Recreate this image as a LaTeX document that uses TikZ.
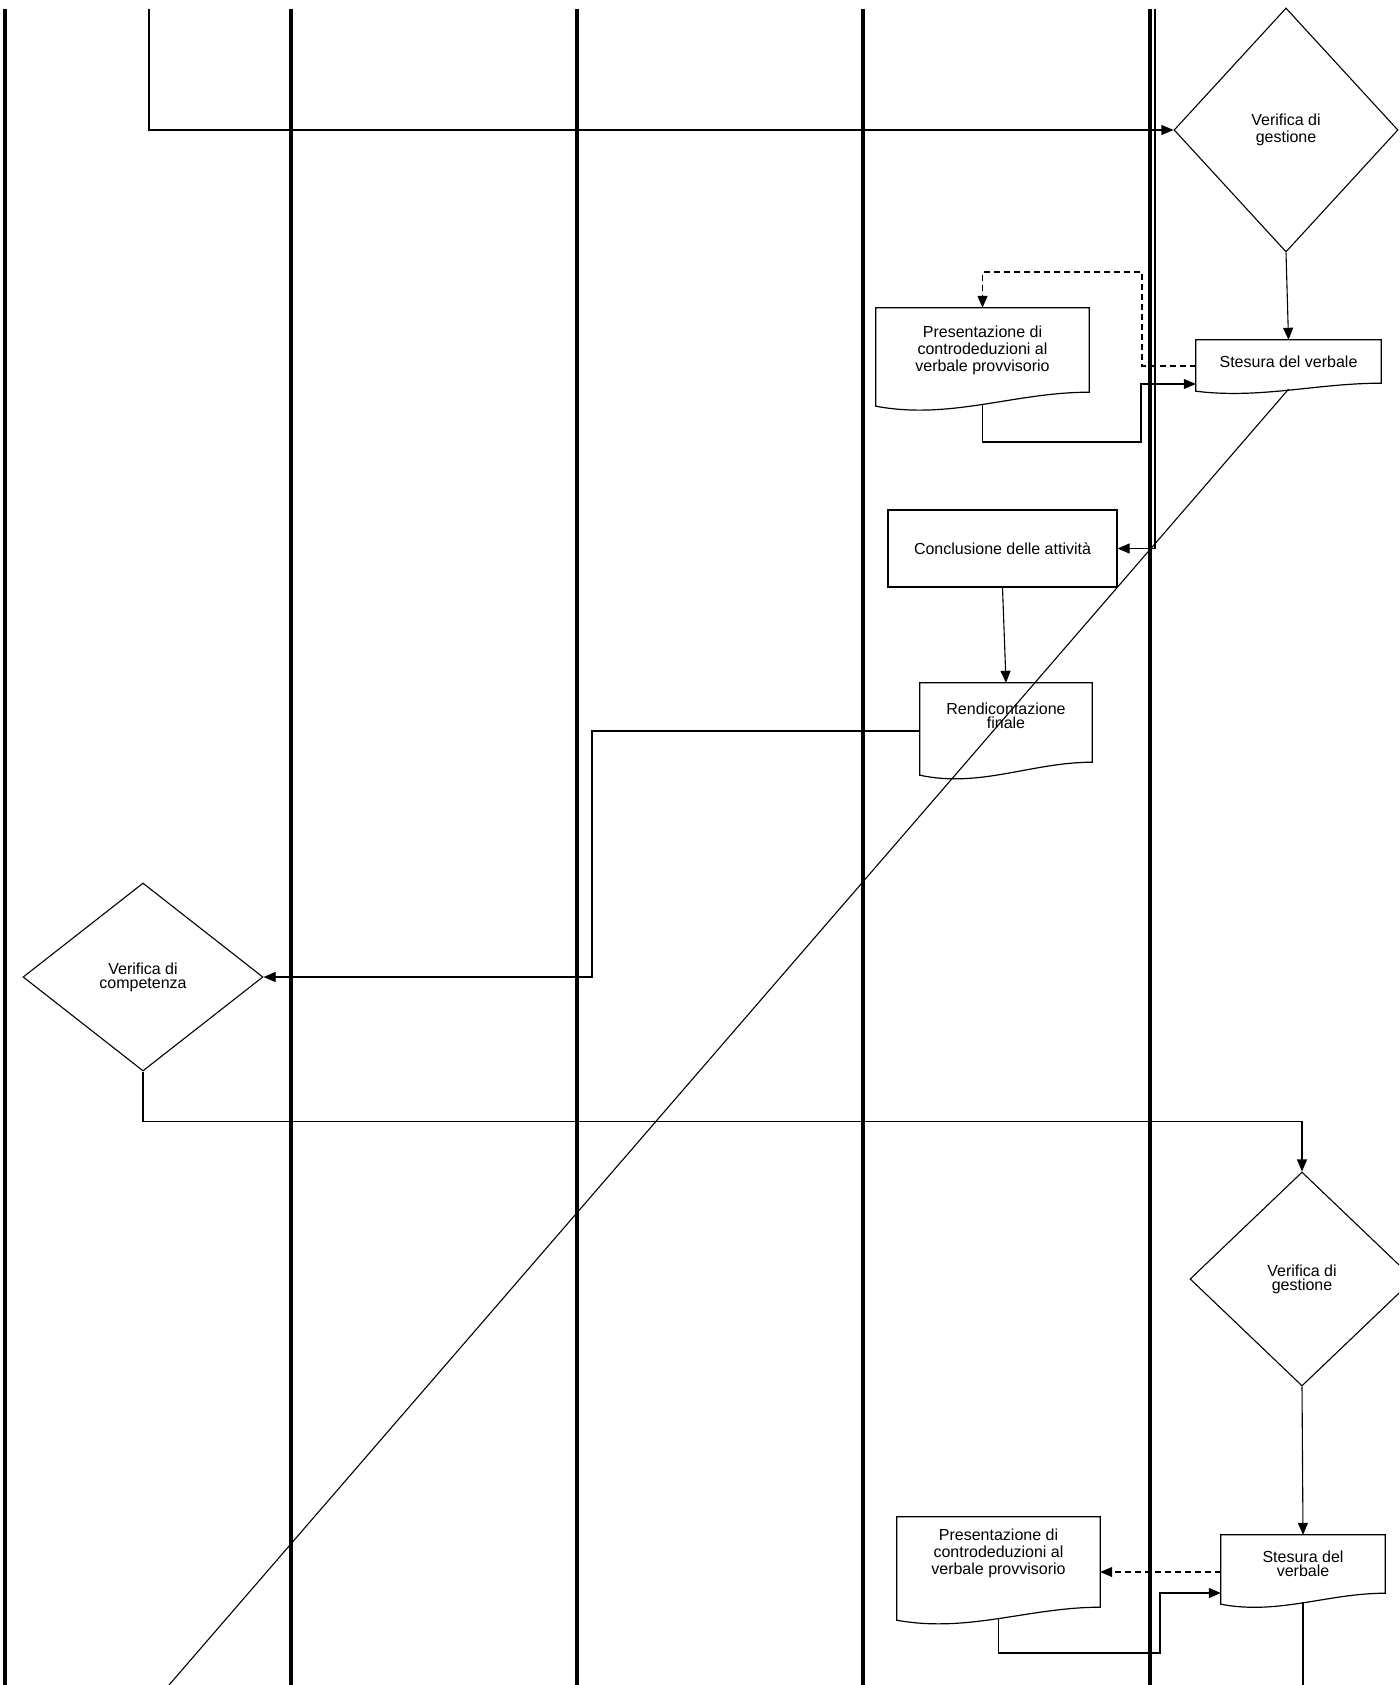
\documentclass[tikz,border=0pt]{standalone}
\usepackage{fontspec}
\setmainfont{Liberation Sans}
\usetikzlibrary{calc}
\usetikzlibrary{arrows.meta}
\usetikzlibrary{shapes.geometric}
\tikzset{
	lanestyle/.style={line width=3.5pt},
	flowstyle/.style={line width=1.1pt,-{Triangle[length=12pt,width=10pt]}},
	dashflowstyle/.style={flowstyle,dash pattern=on 6pt off 4pt},
	plainstyle/.style={line width=1.1pt},
	docline/.style={line width=1.2pt},
	boxstyle/.style={rectangle,draw=black,line width=1.1pt,align=center,inner sep=0pt},
	docstyle/.style={rectangle,draw=none,align=center,inner sep=0pt},
	doctext/.style={align=center,inner sep=0pt},
	decisionstyle/.style={diamond,draw=black,line width=1.1pt,align=center,inner sep=0pt}
}
% document shape with wavy bottom: #1 node, #2 drop of the left corner
\newcommand{\docoutline}[2]{%
	\draw[docline] (#1.south east) -- (#1.north east) -- (#1.north west) -- ($(#1.south west)+(0,#2)$)
		.. controls ($(#1.south west)!0.35!(#1.south east)+(0,2*#2)$) and ($(#1.south east)!0.35!(#1.south west)$) .. (#1.south east) -- cycle;}

\begin{document}
\begin{tikzpicture}[x=1pt,y=-1pt]
		\fontsize{16}{17}\selectfont
		\useasboundingbox (0,0) rectangle (1399,1685);
		\clip (0,0) rectangle (1399,1685);
		% lanes
		\foreach \x in {5,291,577,863,1150}
			\draw[lanestyle] (\x,9) -- (\x,1685);
		% steps
		\node[decisionstyle,minimum width=224pt,minimum height=244pt] (vg1) at (1286,130) {Verifica di\\gestione};
		\node[docstyle,minimum width=185pt,minimum height=43pt] (st1) at (1288.5,361.5) {Stesura del verbale};
		\node[docstyle,minimum width=213pt,minimum height=84pt] (pr1) at (982.5,350) {Presentazione di\\controdeduzioni al\\verbale provvisorio};
		\node[boxstyle,minimum width=229pt,minimum height=77pt] (concl) at (1002.5,548.5) {Conclusione delle attività};
		\node[docstyle,minimum width=172pt,minimum height=79pt,
			label={[doctext,yshift=7pt]center:Rendicontazione\\[-3pt]finale}] (rend) at (1006,722.5) {};
		\node[decisionstyle,minimum width=240pt,minimum height=188pt] (vc) at (143,977) {Verifica di\\[-3pt]competenza};
		\node[decisionstyle,minimum width=224pt,minimum height=214pt] (vg2) at (1302,1279) {Verifica di\\[-3pt]gestione};
		\node[docstyle,minimum width=164pt,minimum height=58pt] (st2) at (1303,1564) {Stesura del\\[-3pt]verbale};
		\node[docstyle,minimum width=203pt,minimum height=90pt,
			label={[doctext,yshift=9pt]center:Presentazione di\\controdeduzioni al\\verbale provvisorio}] (pr2) at (998.5,1562) {};
		\docoutline{st1}{8}
		\docoutline{pr1}{14}
		\docoutline{rend}{13}
		\docoutline{st2}{11}
		\docoutline{pr2}{13}
		% connectors
		\coordinate (topin) at (149,9);
		\coordinate (lanein) at (1155,9);
		\coordinate (diagend) at (169,1685);
		\draw[flowstyle] (topin) |- (vg1.west);
		\draw[flowstyle] (vg1.south) -- (st1.north);
		\draw[dashflowstyle] ([yshift=-4.5pt]st1.west) -| (1142,272) -| (pr1.north);
		\draw[flowstyle] ([yshift=-12pt]pr1.south) |- (1141,442) |- ([yshift=-22.5pt]st1.west);
		\draw[flowstyle] (lanein) |- (concl.east);
		\draw[flowstyle] (concl.south) -- (rend.north);
		\draw[flowstyle] ([yshift=-8.5pt]rend.west) -| (592,977) -- (vc.east);
		\draw[flowstyle] (vc.south) -- ++(0,50) -| (vg2.north);
		\draw[flowstyle] (vg2.south) -- (st2.north);
		\draw[dashflowstyle] ([yshift=-8pt]st2.west) -- ([yshift=-8pt]st2.west -| pr2.east);
		\draw[flowstyle] ([yshift=-12pt]pr2.south) |- (1160,1653) |- ([yshift=-29pt]st2.west);
		\draw[plainstyle] ([yshift=-9pt]st2.south) -- (st2.south |- diagend);
		\draw[plainstyle] ([yshift=-6pt]st1.south) -- (diagend);
\end{tikzpicture}
\end{document}
